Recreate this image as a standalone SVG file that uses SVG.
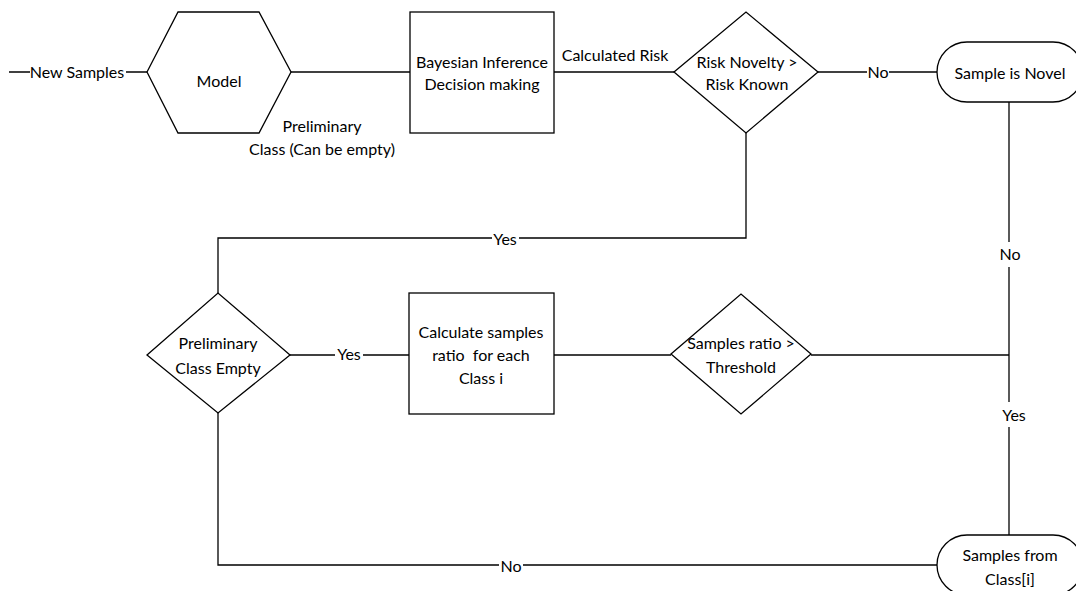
<svg xmlns="http://www.w3.org/2000/svg" width="1076" height="591" viewBox="0 0 1076 591">
  <style>
    .shape { fill: #ffffff; stroke: #000000; stroke-width: 1.3; }
    .wire { fill: none; stroke: #000000; stroke-width: 1.3; }
    .txt { font-family: Lato, "Open Sans", "Liberation Sans", sans-serif; font-size: 16px; fill: #000000; text-anchor: middle; }
    .bg { fill: #ffffff; }
  </style>

  <rect width="1076" height="591" fill="#ffffff"/>

  <!-- connectors -->
  <g id="connectors">
    <path class="wire" d="M9,72 H147"/>
    <path class="wire" d="M291,72 H410"/>
    <path class="wire" d="M554,72 H674"/>
    <path class="wire" d="M818,72 H937"/>
    <path class="wire" d="M746,133 V238 H218 V293"/>
    <path class="wire" d="M1009,102 V535"/>
    <path class="wire" d="M290,355 H409"/>
    <path class="wire" d="M554,355 H671"/>
    <path class="wire" d="M811,355 H1009"/>
    <path class="wire" d="M218,413 V565 H937"/>

    <!-- connector labels -->
    <rect class="bg" x="30" y="63" width="96" height="18"/>
    <text class="txt" x="77" y="78">New Samples</text>
    <text class="txt" x="615" y="61">Calculated Risk</text>
    <text class="txt" x="322" y="132">Preliminary</text>
    <text class="txt" x="322" y="155">Class (Can be empty)</text>
    <rect class="bg" x="867" y="64" width="22" height="17"/>
    <text class="txt" x="878" y="78">No</text>
    <rect class="bg" x="492" y="230" width="27" height="17"/>
    <text class="txt" x="505" y="245">Yes</text>
    <rect class="bg" x="998" y="242" width="24" height="25"/>
    <text class="txt" x="1010" y="260">No</text>
    <rect class="bg" x="335" y="347" width="28" height="17"/>
    <text class="txt" x="349" y="360">Yes</text>
    <rect class="bg" x="1000" y="402" width="28" height="25"/>
    <text class="txt" x="1014" y="421">Yes</text>
    <rect class="bg" x="499" y="557" width="24" height="17"/>
    <text class="txt" x="511" y="572">No</text>
  </g>

  <!-- Model -->
  <g id="model">
    <polygon class="shape" points="147,72 178,12 259,12 291,72 259,133 178,133"/>
    <text class="txt" x="219" y="87">Model</text>
  </g>

  <!-- Bayesian inference -->
  <g id="bayesian">
    <rect class="shape" x="410" y="12" width="144" height="121"/>
    <text class="txt" x="482" y="68">Bayesian Inference</text>
    <text class="txt" x="482" y="90">Decision making</text>
  </g>

  <!-- Risk decision -->
  <g id="risk-decision">
    <polygon class="shape" points="674,72 746,12 818,72 746,133"/>
    <text class="txt" x="747" y="68">Risk Novelty &gt;</text>
    <text class="txt" x="747" y="90">Risk Known</text>
  </g>

  <!-- Sample is Novel -->
  <g id="sample-novel">
    <rect class="shape" x="937" y="42" width="146" height="60" rx="30" ry="30"/>
    <text class="txt" x="1010" y="79">Sample is Novel</text>
  </g>

  <!-- Preliminary class empty decision -->
  <g id="class-empty">
    <polygon class="shape" points="147,355 218,293 290,355 218,413"/>
    <text class="txt" x="218" y="349">Preliminary</text>
    <text class="txt" x="218" y="374">Class Empty</text>
  </g>

  <!-- Calculate samples ratio -->
  <g id="calc-ratio">
    <rect class="shape" x="409" y="293" width="145" height="121"/>
    <text class="txt" x="481" y="338">Calculate samples</text>
    <text class="txt" x="481" y="361" xml:space="preserve">ratio  for each</text>
    <text class="txt" x="481" y="384">Class i</text>
  </g>

  <!-- Threshold decision -->
  <g id="threshold">
    <polygon class="shape" points="671,354 741,294 811,354 741,414"/>
    <text class="txt" x="741" y="349">Samples ratio &gt;</text>
    <text class="txt" x="741" y="373">Threshold</text>
  </g>

  <!-- Samples from class -->
  <g id="samples-class">
    <rect class="shape" x="937" y="535" width="146" height="60" rx="30" ry="30"/>
    <text class="txt" x="1010" y="561">Samples from</text>
    <text class="txt" x="1010" y="585">Class[i]</text>
  </g>
</svg>
